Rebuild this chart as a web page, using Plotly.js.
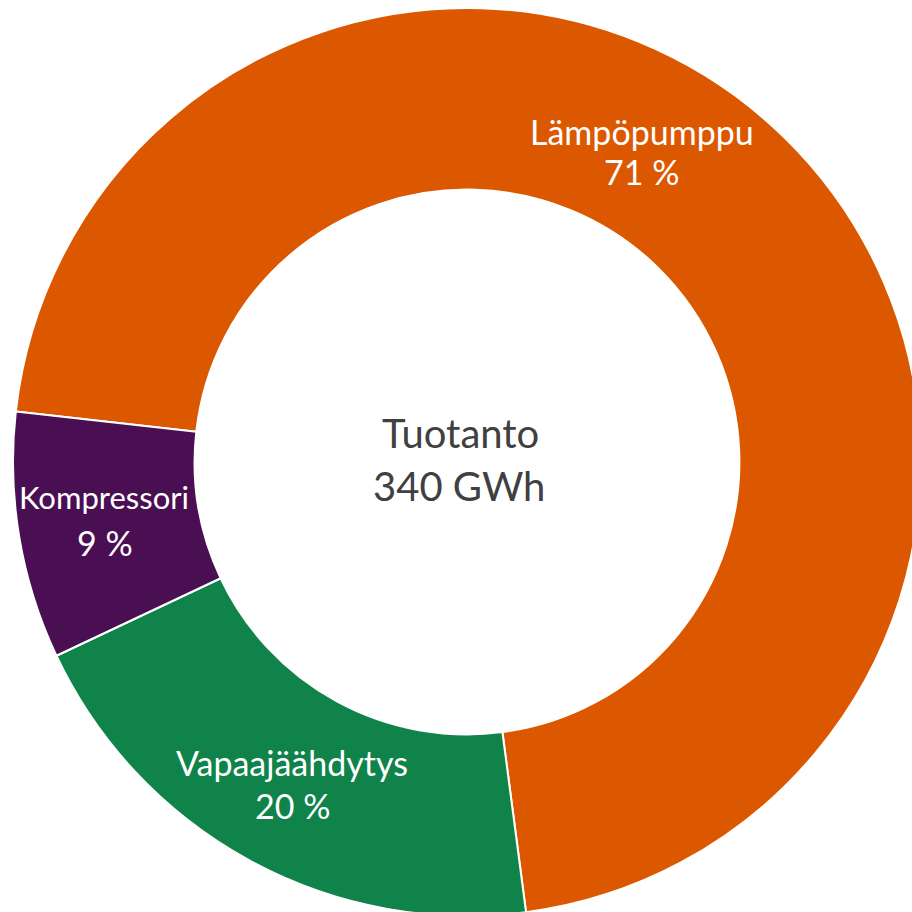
<!DOCTYPE html>
<html>
<head>
<meta charset="utf-8">
<script src="https://cdn.plot.ly/plotly-3.0.1.min.js"></script>
<style>
  html, body { margin: 0; padding: 0; overflow: hidden; background: #ffffff; width: 912px; height: 912px; }
  #chart { position: absolute; left: 13px; top: 8px; width: 908px; height: 908px; }
</style>
</head>
<body>
<div id="chart"></div>
<script>
// Data (GWh, total 340)
const categories = ["Lämpöpumppu", "Vapaajäähdytys", "Kompressori"];
const valuesGWh = [241.9, 68.2, 29.9];
const sliceColors = ["#DB5800", "#10834B", "#4A0E53"];
const centerTitle = "Tuotanto";
const centerValue = "340 GWh";

const total = valuesGWh.reduce((a, b) => a + b, 0);
const pctText = valuesGWh.map(v => Math.round(v / total * 100) + " %");

// label placement (pixel positions in the page -> paper coords)
const W = 908, OX = 13, OY = 8;
function px(x) { return (x - OX) / W; }
function py(y) { return 1 - (y - OY) / W; }

const labelPos = [
  { name: [642, 131], pct: [641, 172], size: 34 },
  { name: [292, 762], pct: [292, 805], size: 34 },
  { name: [104, 497], pct: [105, 542], size: 31 }
];

const annotations = [];
categories.forEach((c, i) => {
  const f = { family: "Lato, 'Open Sans', sans-serif", size: labelPos[i].size, color: "#ffffff" };
  annotations.push({ text: c, x: px(labelPos[i].name[0]), y: py(labelPos[i].name[1]), xref: "paper", yref: "paper",
    xanchor: "center", yanchor: "middle", showarrow: false, font: f });
  annotations.push({ text: pctText[i], x: px(labelPos[i].pct[0]), y: py(labelPos[i].pct[1]), xref: "paper", yref: "paper",
    xanchor: "center", yanchor: "middle", showarrow: false, font: Object.assign({}, f, { size: 34 }) });
});
const centerFont = { family: "Lato, 'Open Sans', sans-serif", size: 40, color: "#404040" };
annotations.push({ text: centerTitle, x: px(460), y: py(433), xref: "paper", yref: "paper",
  xanchor: "center", yanchor: "middle", showarrow: false, font: centerFont });
annotations.push({ text: centerValue, x: px(459), y: py(486), xref: "paper", yref: "paper",
  xanchor: "center", yanchor: "middle", showarrow: false, font: centerFont });

const trace = {
  type: "pie",
  labels: categories,
  values: valuesGWh,
  sort: false,
  direction: "clockwise",
  rotation: -83.6,
  hole: 0.6,
  textinfo: "none",
  hoverinfo: "none",
  marker: { colors: sliceColors, line: { color: "#ffffff", width: 2 } },
  showlegend: false
};

const layout = {
  width: W, height: W,
  margin: { l: 0, r: 0, t: 0, b: 0, pad: 0 },
  paper_bgcolor: "rgba(0,0,0,0)",
  plot_bgcolor: "rgba(0,0,0,0)",
  showlegend: false,
  annotations: annotations
};

Plotly.newPlot("chart", [trace], layout, { displayModeBar: false, staticPlot: true });
</script>
</body>
</html>
